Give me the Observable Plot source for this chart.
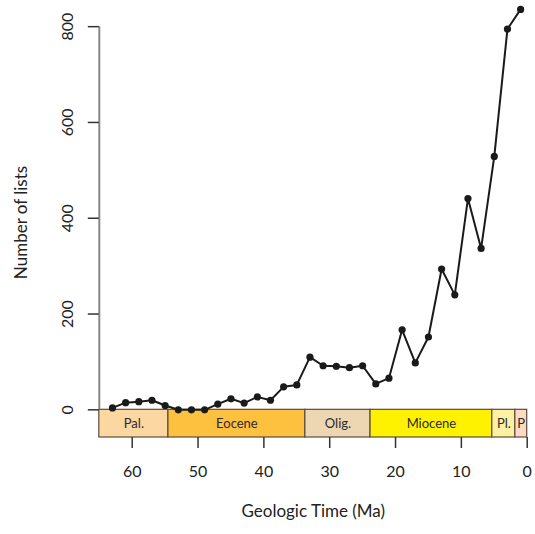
<!DOCTYPE html>
<html>
<head>
<meta charset="utf-8">
<script src="https://cdn.jsdelivr.net/npm/d3@7"></script>
<script src="https://cdn.jsdelivr.net/npm/@observablehq/plot@0.6"></script>
<style>
  html, body { margin: 0; padding: 0; background: #fff; }
  #chart { width: 535px; height: 534px; }
</style>
</head>
<body>
<div id="chart"></div>
<script>
// Data: ages (Ma) and number of lists
const ages = [63, 61, 59, 57, 55, 53, 51, 49, 47, 45, 43, 41, 39, 37, 35, 33,
              31, 29, 27, 25, 23, 21, 19, 17, 15, 13, 11, 9, 7, 5, 3, 1];
const counts = [4, 15, 17, 20, 9, 0, 0, 0, 12, 23, 14, 27, 20, 48, 52, 110,
                92, 91, 88, 92, 54, 66, 167, 98, 152, 294, 240, 441, 337, 529, 795, 836];

// Geologic periods
const periodNames = ["Pal.", "Eocene", "Olig.", "Miocene", "Pl.", "P"];
const periodStart = [65, 54.5, 33.7, 23.8, 5.3, 1.8];
const periodEnd = [54.5, 33.7, 23.8, 5.3, 1.8, 0];
const periodColors = ["#FDD7A2", "#FDC03F", "#EDD7B3", "#FFF200", "#FFF1A3", "#FDDAC0"];

const xTicks = [60, 50, 40, 30, 20, 10, 0];
const yTicks = [0, 200, 400, 600, 800];

const series = ages.map((a, i) => ({age: a, n: counts[i]}));
const periods = periodNames.map((p, i) => ({name: p, start: periodStart[i], end: periodEnd[i], color: periodColors[i]}));

const yMin = -57.8;
const yMax = 840;

const chart = Plot.plot({
  width: 535,
  height: 534,
  marginLeft: 98.8,
  marginRight: 8.3,
  marginTop: 7,
  marginBottom: 97,
  style: {fontFamily: "Lato, 'Open Sans', sans-serif", background: "#fff", color: "#222"},
  x: {domain: [65, 0]},
  y: {domain: [yMin, yMax]},
  marks: [
    // period bar
    Plot.rect(periods, {x1: "start", x2: "end", y1: 0, y2: yMin, fill: "color", stroke: "#5b4b3b", strokeWidth: 1.2}),
    Plot.text(periods, {x: d => (d.start + d.end) / 2, y: yMin / 2, text: "name", fontSize: 13, fill: "#2a2a2a"}),
    // y axis line
    Plot.ruleX([65], {y1: 0, y2: 800, stroke: "#888", strokeWidth: 2}),
    Plot.axisY({ticks: yTicks, tickSize: 11, tickFormat: () => "", stroke: "#333", strokeWidth: 1.5, label: null}),
    Plot.text(yTicks, {y: d => d, frameAnchor: "left", textAnchor: "middle", lineAnchor: "middle", dx: -31, rotate: -90, text: d => String(d), fontSize: 16, fill: "#222"}),
    // x axis
    Plot.axisX({ticks: xTicks, tickSize: 11, tickPadding: 17, fontSize: 16, stroke: "#333", strokeWidth: 1.5, fill: "#222", label: null}),
    // axis titles
    Plot.text(["Geologic Time (Ma)"], {frameAnchor: "bottom", textAnchor: "middle", dy: 79, text: d => d, fontSize: 17, fill: "#222"}),
    Plot.text(["Number of lists"], {frameAnchor: "left", textAnchor: "middle", lineAnchor: "middle", dx: -78, rotate: -90, text: d => d, fontSize: 17, fill: "#222"}),
    // series
    Plot.line(series, {x: "age", y: "n", stroke: "#1a1a1a", strokeWidth: 2}),
    Plot.dot(series, {x: "age", y: "n", r: 3.6, fill: "#1a1a1a", stroke: "none"})
  ]
});
document.getElementById("chart").appendChild(chart);
</script>
</body>
</html>
